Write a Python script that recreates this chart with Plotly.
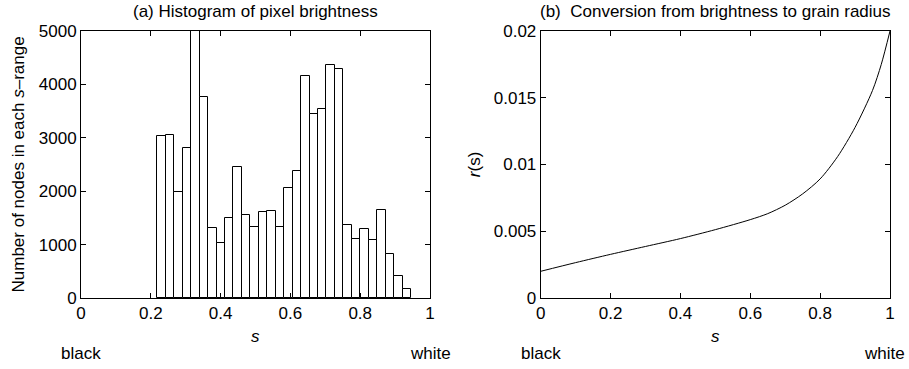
import plotly.graph_objects as go

# Histogram data (panel a)
bin_centers = [0.2308, 0.2551, 0.2793, 0.3035, 0.3277, 0.3520, 0.3762, 0.4004, 0.4247, 0.4489,
               0.4731, 0.4974, 0.5216, 0.5458, 0.5701, 0.5943, 0.6185, 0.6427, 0.6670, 0.6912,
               0.7154, 0.7397, 0.7639, 0.7881, 0.8124, 0.8366, 0.8608, 0.8851, 0.9093, 0.9335]
bin_width = 0.02423
counts = [3030, 3050, 1985, 2800, 5000, 3770, 1310, 1025, 1490, 2450,
          1560, 1335, 1605, 1635, 1335, 2055, 2385, 4155, 3450, 3545,
          4370, 4280, 1365, 1110, 1290, 1085, 1655, 830, 420, 160]

# Conversion curve (panel b)
s_vals = [0, 0.1, 0.2, 0.3, 0.4, 0.5, 0.6, 0.65, 0.7, 0.75, 0.8, 0.85, 0.9, 0.95, 0.975, 1.0]
r_vals = [0.0020, 0.00265, 0.00327, 0.00386, 0.00445, 0.00512, 0.00587, 0.00632, 0.00695,
          0.00780, 0.00892, 0.01059, 0.01278, 0.01555, 0.01750, 0.0200]

x_ticks = [0, 0.2, 0.4, 0.6, 0.8, 1]
x_ticktext = ["0", "0.2", "0.4", "0.6", "0.8", "1"]
ya_ticks = [0, 1000, 2000, 3000, 4000, 5000]
yb_ticks = [0, 0.005, 0.01, 0.015, 0.02]
yb_ticktext = ["0", "0.005", "0.01", "0.015", "0.02"]

FONT = "Liberation Sans, Arial, Helvetica, sans-serif"
FS = 17

fig = go.Figure()
fig.add_trace(go.Bar(x=bin_centers, y=counts, width=[bin_width] * len(counts),
                     marker=dict(color="white", line=dict(color="black", width=1)),
                     xaxis="x", yaxis="y", showlegend=False))
fig.add_trace(go.Scatter(x=s_vals, y=r_vals, mode="lines",
                         line=dict(color="black", width=1, shape="spline", smoothing=0.8),
                         xaxis="x2", yaxis="y2", showlegend=False))

axis_common = dict(showline=True, linecolor="black", linewidth=1, mirror="ticks",
                   ticks="inside", ticklen=5, tickcolor="black", showgrid=False,
                   zeroline=False, tickfont=dict(size=FS, color="black", family=FONT))

W, H = 909, 369
ml, mr, mt, mb = 81, 19, 31, 71
pw = W - ml - mr

fig.update_layout(
    width=W, height=H,
    margin=dict(l=ml, r=mr, t=mt, b=mb),
    plot_bgcolor="white", paper_bgcolor="white",
    font=dict(family=FONT, size=FS, color="black"),
    bargap=0,
    xaxis=dict(domain=[0, (430 - ml) / pw], range=[0, 1], tickvals=x_ticks, ticktext=x_ticktext,
               anchor="y", **axis_common),
    yaxis=dict(domain=[0, 1], range=[0, 5000], tickvals=ya_ticks, anchor="x", **axis_common),
    xaxis2=dict(domain=[(540.7 - ml) / pw, 1], range=[0, 1], tickvals=x_ticks, ticktext=x_ticktext,
                anchor="y2", **axis_common),
    yaxis2=dict(domain=[0, 1], range=[0, 0.02], tickvals=yb_ticks, ticktext=yb_ticktext,
                anchor="x2", **axis_common),
)

ann = []
def add(text, xref, x, y, xanchor="center", yanchor="middle", yshift=0, xshift=0, angle=0):
    ann.append(dict(text=text, xref=xref, yref="paper", x=x, y=y, xanchor=xanchor,
                    yanchor=yanchor, yshift=yshift, xshift=xshift, textangle=angle,
                    showarrow=False, font=dict(size=FS, color="black", family=FONT)))

# titles
add("(a) Histogram of pixel brightness", "x domain", 0.5, 1, yshift=20)
add("(b)  Conversion from brightness to grain radius", "x2 domain", 0.5, 1, yshift=20)
# x axis titles
add("<i>s</i>", "x domain", 0.5, 0, yshift=-38)
add("<i>s</i>", "x2 domain", 0.5, 0, yshift=-38)
# black / white
add("black", "x domain", 0, 0, yshift=-55)
add("white", "x domain", 1, 0, yshift=-55)
add("black", "x2 domain", 0, 0, yshift=-55)
add("white", "x2 domain", 1, 0, xanchor="right", xshift=17, yshift=-55)
# y axis titles
add("Number of nodes in each <i>s</i>\u2013range", "x domain", 0, 0.5, xshift=-63, angle=-90)
add("<i>r</i>(s)", "x2 domain", 0, 0.5, xshift=-66, angle=-90)

fig.update_layout(annotations=ann)
fig.write_html("out.html")
